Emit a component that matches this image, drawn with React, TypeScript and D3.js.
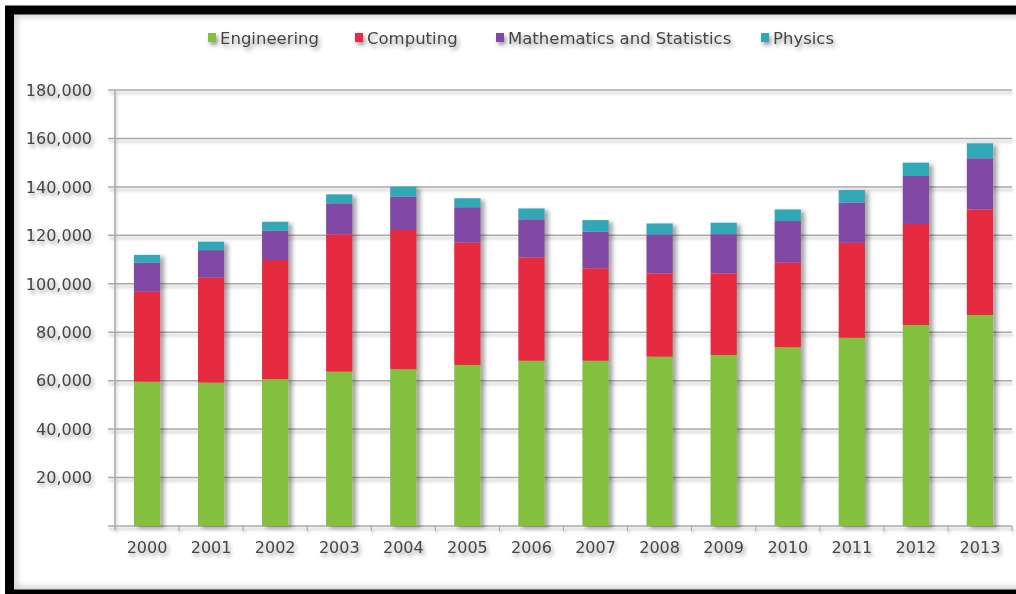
import React from "react";
import * as d3 from "d3";

const years = ["2000","2001","2002","2003","2004","2005","2006","2007","2008","2009","2010","2011","2012","2013"];
const seriesNames = ["Engineering", "Computing", "Mathematics and Statistics", "Physics"];
const engineering = [59600, 59200, 60600, 63700, 64700, 66500, 68200, 68200, 69900, 70600, 73800, 77700, 83000, 87100];
const computing = [37100, 43300, 49200, 56700, 57500, 50500, 42700, 38200, 34400, 33700, 34900, 39200, 41700, 43600];
const mathematics = [12000, 11400, 12100, 12800, 13700, 14600, 15700, 15100, 16100, 16200, 17200, 16600, 19800, 21100];
const physics = [3200, 3500, 3700, 3700, 4200, 3700, 4500, 4800, 4500, 4700, 4800, 5200, 5500, 6200];
const yTicks = [20000, 40000, 60000, 80000, 100000, 120000, 140000, 160000, 180000];
const colors = ["#82c03c", "#e62b40", "#8148a3", "#33a8b6"];

const W = 1016, H = 594;
const plotLeft = 115, plotRight = 1012, plotTop = 90, plotBottom = 526;
const FONT = "'DejaVu Sans', sans-serif";
const TEXT = "#444444";

export default function App() {
  const rows = years.map((y, i) => ({
    year: y,
    Engineering: engineering[i],
    Computing: computing[i],
    "Mathematics and Statistics": mathematics[i],
    Physics: physics[i],
  }));
  const stacked = d3.stack<any>().keys(seriesNames)(rows);
  const x = d3.scaleBand<string>().domain(years).range([plotLeft, plotRight]).paddingInner(0.59).paddingOuter(0.295);
  const xb = d3.scaleBand<string>().domain(years).range([plotLeft, plotRight]);
  const y = d3.scaleLinear().domain([0, 180000]).range([plotBottom, plotTop]);
  const fmt = d3.format(",");

  const legendX = [208, 355, 496, 761];

  return (
    <svg width={W} height={H} style={{ position: "fixed", left: 0, top: 0, background: "#fff" }}>
      <defs>
        <filter id="tshadow" x="-10%" y="-30%" width="130%" height="190%">
          <feDropShadow dx="2" dy="3" stdDeviation="2" floodColor="#000" floodOpacity="0.4" />
        </filter>
        <filter id="bshadow" x="-20%" y="-5%" width="160%" height="115%">
          <feDropShadow dx="4" dy="2" stdDeviation="2" floodColor="#000" floodOpacity="0.35" />
        </filter>
        <filter id="gshadow" x="-5%" y="-200%" width="110%" height="500%">
          <feDropShadow dx="1" dy="3" stdDeviation="1.8" floodColor="#000" floodOpacity="0.25" />
        </filter>
        <filter id="blur4">
          <feGaussianBlur stdDeviation="3" />
        </filter>
      </defs>
      <rect x={0} y={0} width={W} height={H} fill="#fff" />
      {/* inner soft shadow of frame */}
      <rect x={14} y={14} width={1100} height={575} fill="none" stroke="#bbb" strokeWidth={4} filter="url(#blur4)" />
      {/* gridlines */}
      <g filter="url(#gshadow)">
        {yTicks.map((t) => (
          <line key={t} x1={plotLeft - 7} x2={plotRight} y1={y(t)} y2={y(t)} stroke="#aaaaaa" strokeWidth={1.5} />
        ))}
        <line x1={plotLeft} x2={plotLeft} y1={plotTop} y2={plotBottom + 4} stroke="#aaaaaa" strokeWidth={1.5} />
        <line x1={plotLeft - 7} x2={plotRight} y1={plotBottom} y2={plotBottom} stroke="#aaaaaa" strokeWidth={1.5} />
        {years.map((yr) => (
          <line key={yr} x1={(xb(yr) as number) + xb.bandwidth()} x2={(xb(yr) as number) + xb.bandwidth()} y1={plotBottom} y2={plotBottom + 5} stroke="#aaaaaa" strokeWidth={1.2} />
        ))}
      </g>
      {/* bars */}
      <g filter="url(#bshadow)">
        {stacked.map((s, si) => (
          <g key={s.key} fill={colors[si]}>
            {s.map((d, i) => (
              <rect key={i} x={x(years[i])} width={x.bandwidth()} y={y(d[1])} height={y(d[0]) - y(d[1])} />
            ))}
          </g>
        ))}
      </g>
      {/* axis labels */}
      <g filter="url(#tshadow)" fontFamily={FONT} fontSize={16} fill={TEXT}>
        {yTicks.map((t) => (
          <text key={t} x={92} y={y(t)} dy="0.36em" textAnchor="end">{fmt(t)}</text>
        ))}
        {years.map((yr) => (
          <text key={yr} x={(x(yr) as number) + x.bandwidth() / 2} y={553} textAnchor="middle">{yr}</text>
        ))}
      </g>
      {/* legend */}
      <g filter="url(#tshadow)" fontFamily={FONT} fontSize={16.5} fill={TEXT}>
        {seriesNames.map((n, i) => (
          <g key={n}>
            <rect x={legendX[i]} y={33} width={8} height={9} fill={colors[i]} />
            <text x={legendX[i] + 12} y={44}>{n}</text>
          </g>
        ))}
      </g>
      {/* frame */}
      <rect x={9.5} y={10} width={1100} height={584} fill="none" stroke="#000" strokeWidth={9} />
    </svg>
  );
}
